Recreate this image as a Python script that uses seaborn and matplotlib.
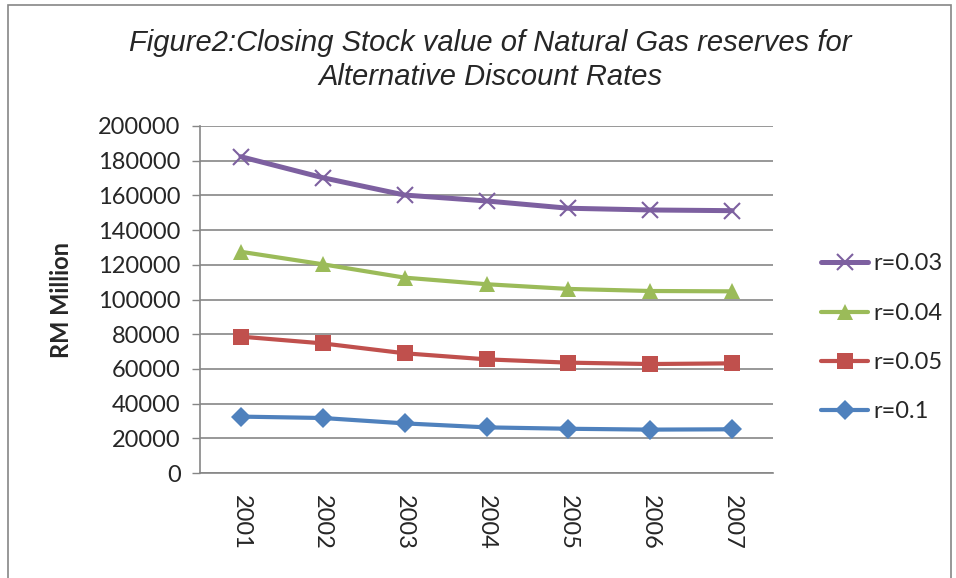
import matplotlib
matplotlib.use("Agg")
import matplotlib.pyplot as plt
import seaborn as sns
import pandas as pd
from matplotlib.patches import Rectangle
from matplotlib.lines import Line2D

years = ["2001", "2002", "2003", "2004", "2005", "2006", "2007"]
r_010 = [32500, 31700, 28600, 26300, 25500, 25000, 25200]
r_005 = [78600, 74700, 69000, 65500, 63600, 62800, 63200]
r_004 = [127500, 120300, 112600, 108800, 106100, 104900, 104700]
r_003 = [182300, 170200, 160200, 156800, 152600, 151600, 151200]
series_names = ["r=0.1", "r=0.05", "r=0.04", "r=0.03"]
series_vals = [r_010, r_005, r_004, r_003]
colors = {"r=0.1": "#4F81BD", "r=0.05": "#C0504D", "r=0.04": "#9BBB59", "r=0.03": "#7D60A0"}
markers = {"r=0.1": "D", "r=0.05": "s", "r=0.04": "^", "r=0.03": "x"}
msizes = {"r=0.1": 10, "r=0.05": 11, "r=0.04": 12, "r=0.03": 11}
lwidths = {"r=0.1": 3.0, "r=0.05": 3.0, "r=0.04": 3.0, "r=0.03": 3.6}

rows = []
for name, vals in zip(series_names, series_vals):
    for i, (y, v) in enumerate(zip(years, vals)):
        rows.append({"idx": i, "year": y, "value": v, "series": name})
df = pd.DataFrame(rows)

sns.set_theme(style="white")
plt.rcParams["font.family"] = ["Lato", "DejaVu Sans"]

fig = plt.figure(figsize=(9.56, 5.78), dpi=100)
ax = fig.add_axes([200/956, 1-473/578, 573/956, 347/578])

for name in series_names:
    sub = df[df.series == name]
    sns.lineplot(data=sub, x="idx", y="value", ax=ax, color=colors[name],
                 linewidth=lwidths[name],
                 marker=markers[name], markersize=msizes[name],
                 markeredgewidth=1.5 if name == "r=0.03" else 0,
                 markeredgecolor=colors[name], legend=False, zorder=3)

ax.set_xlim(-0.5, 6.5)
ax.set_ylim(0, 200000)
ax.set_yticks(range(0, 200001, 20000))
ax.set_yticklabels([str(v) for v in range(0, 200001, 20000)], fontsize=17)
ax.set_xticks(range(len(years)))
ax.set_xticklabels(years, rotation=-90, fontsize=17)
ax.set_xticks([i - 0.5 for i in range(len(years) + 1)], minor=True)
ax.tick_params(axis="x", which="major", length=0, pad=16)
ax.tick_params(axis="x", which="minor", length=6, width=1, color="#868686", direction="out")
ax.tick_params(axis="y", which="major", length=6, width=1, color="#868686", direction="out", left=True, pad=8)
ax.yaxis.grid(True, color="#868686", linewidth=1.2)
ax.xaxis.grid(False)
for s in ["top", "right"]:
    ax.spines[s].set_visible(False)
for s in ["left", "bottom"]:
    ax.spines[s].set_color("#868686")
    ax.spines[s].set_linewidth(1.2)
ax.set_xlabel("")
ax.set_ylabel("RM Million", fontsize=17, fontweight="bold", labelpad=18)

handles = []
for name in ["r=0.03", "r=0.04", "r=0.05", "r=0.1"]:
    handles.append(Line2D([0], [0], color=colors[name], linewidth=lwidths[name], marker=markers[name],
                          markersize=msizes[name], markeredgewidth=1.5 if name == "r=0.03" else 0,
                          markeredgecolor=colors[name]))
fig.legend(handles, ["r=0.03", "r=0.04", "r=0.05", "r=0.1"], loc="center left",
           bbox_to_anchor=(800/956, 1-338/578), frameon=False, fontsize=17,
           handlelength=2.0, labelspacing=1.2, handletextpad=0.2)

fig.text(0.513, 1-43/578, "Figure2:Closing Stock value of Natural Gas reserves for",
         ha="center", va="center", fontsize=21, style="italic",
         family=["Liberation Sans", "DejaVu Sans"])
fig.text(0.513, 1-77/578, "Alternative Discount Rates",
         ha="center", va="center", fontsize=21, style="italic",
         family=["Liberation Sans", "DejaVu Sans"])

fig.patches.append(Rectangle((8/956, -0.05), 943/956, 1 - 5/578 + 0.05, transform=fig.transFigure,
                             fill=False, edgecolor="#868686", linewidth=1.2))

fig.savefig("out.png", dpi=100)
